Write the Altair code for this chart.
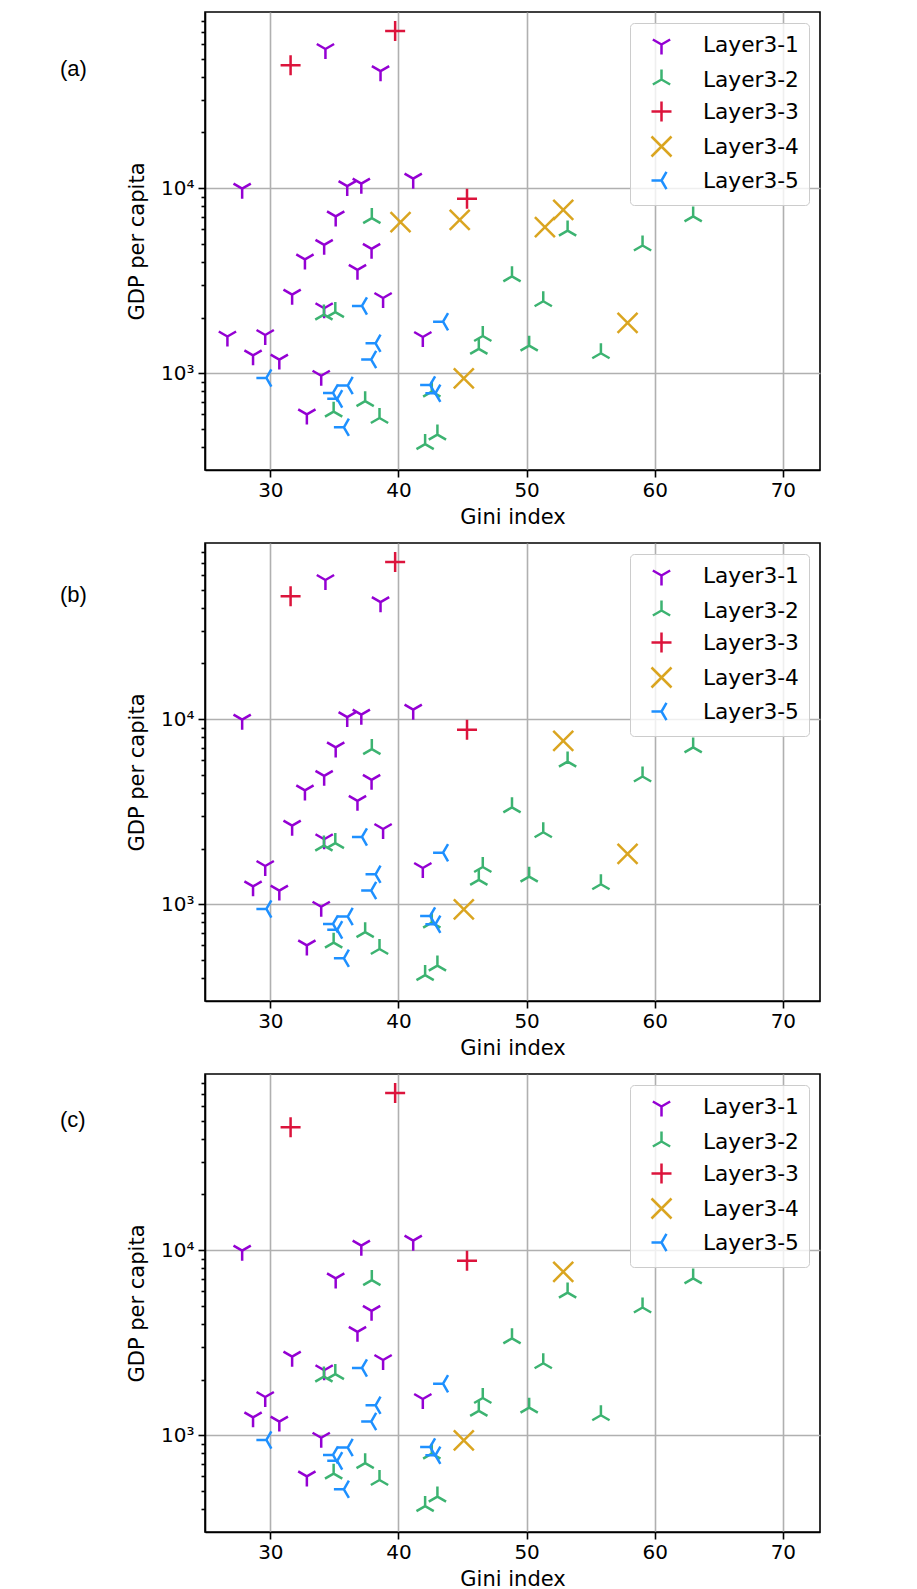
import altair as alt
import pandas as pd

# ---------------- data ----------------
series_names = ["Layer3-1", "Layer3-2", "Layer3-3", "Layer3-4", "Layer3-5"]
series_colors = ["#9400D3", "#3CB371", "#DC143C", "#DAA520", "#1E90FF"]

# Layer3-1 (tri_down, purple); panels string tells in which panels the point appears
l1_gini = [34.3, 38.6, 27.8, 36.0, 37.1, 41.15, 35.1, 34.2, 37.9, 32.7, 36.8,
           31.7, 38.8, 34.2, 26.65, 29.6, 41.9, 28.65, 30.7, 33.97, 32.85]
l1_gdp = [56400, 42800, 9930, 10260, 10570, 11250, 7030, 4940, 4700, 4120, 3620,
          2660, 2550, 2245, 1580, 1610, 1570, 1250, 1186, 970, 600]
l1_panels = ["ab", "ab", "abc", "ab", "abc", "abc", "abc", "ab", "abc", "ab", "abc",
             "abc", "abc", "abc", "a", "abc", "abc", "abc", "abc", "abc", "abc"]

# Layer3-2 (tri_up, green)
l2_gini = [37.92, 53.2, 63.0, 59.05, 48.86, 51.3, 46.58, 46.27, 50.2, 55.8,
           34.18, 35.07, 42.6, 43.04, 42.08, 34.94, 37.4, 38.52]
l2_gdp = [6890, 5900, 7030, 4900, 3340, 2450, 1590, 1355, 1410, 1283,
          2075, 2140, 796, 467, 415, 621, 707, 574]
l2_panels = ["abc"] * 18

# Layer3-3 (plus, red)
l3_gini = [31.58, 39.74, 45.35]
l3_gdp = [46000, 70600, 8770]
l3_panels = ["abc", "abc", "abc"]

# Layer3-4 (x, orange)
l4_gini = [40.16, 44.78, 52.86, 51.43, 57.88, 45.1]
l4_gdp = [6550, 6740, 7640, 6150, 1870, 940]
l4_panels = ["a", "a", "abc", "a", "ab", "abc"]

# Layer3-5 (tri_left, blue)
l5_gini = [37.15, 43.48, 38.21, 37.87, 29.69, 36.04, 34.89, 35.22, 35.74, 42.47, 42.88]
l5_gdp = [2310, 1900, 1453, 1187, 944, 859, 783, 728, 511, 865, 780]
l5_panels = ["abc"] * 11

panel_keys = ["a", "b", "c"]
panel_labels = ["(a)", "(b)", "(c)"]

x_ticks = [30, 40, 50, 60, 70]
y_major = [1000, 10000]
y_minor = [400, 500, 600, 700, 800, 900, 2000, 3000, 4000, 5000, 6000, 7000,
           8000, 9000, 20000, 30000, 40000, 50000, 60000, 70000, 80000]

# ---------------- build table ----------------
series_data = [
    (l1_gini, l1_gdp, l1_panels),
    (l2_gini, l2_gdp, l2_panels),
    (l3_gini, l3_gdp, l3_panels),
    (l4_gini, l4_gdp, l4_panels),
    (l5_gini, l5_gdp, l5_panels),
]
rows = []
for name, (gx, gy, gp) in zip(series_names, series_data):
    for xv, yv, pv in zip(gx, gy, gp):
        for p in pv:
            rows.append({"series": name, "gini": xv, "gdp": yv, "panel": p})
df = pd.DataFrame(rows)

# marker shapes (matplotlib '1', '2', '+', 'x', '3')
shape_paths = [
    "M0,0L0,1M0,0L-0.866,-0.5M0,0L0.866,-0.5",
    "M0,0L0,-1M0,0L-0.866,0.5M0,0L0.866,0.5",
    "M-1,0L1,0M0,-1L0,1",
    "M-1,-1L1,1M-1,1L1,-1",
    "M0,0L-1,0M0,0L0.5,-0.866M0,0L0.5,0.866",
]

major_test = "datum.value == 1000 || datum.value == 10000"

W, H = 615, 458
label_y = [57, 52, 46]


def make_panel(key, label, ly):
    legend = alt.Legend(
        title=None, orient="top-right", offset=11, padding=10, cornerRadius=4,
        strokeColor="#cccccc", fillColor="rgba(255,255,255,0.8)",
        labelFont="DejaVu Sans", labelFontSize=21.7, labelColor="black",
        symbolSize=400, symbolStrokeWidth=2.5, rowPadding=4,
        labelOffset=30, symbolOffset=10,
    )
    pts = alt.Chart(df[df["panel"] == key]).mark_point(
        filled=False, strokeWidth=2.5, size=400, opacity=1
    ).encode(
        x=alt.X("gini:Q",
                scale=alt.Scale(domain=[24.9, 72.9], nice=False, zero=False),
                axis=alt.Axis(values=x_ticks, title="Gini index", tickSize=7,
                              labelPadding=3, titlePadding=6, grid=True)),
        y=alt.Y("gdp:Q",
                scale=alt.Scale(type="log", domain=[300.6, 89300], nice=False),
                axis=alt.Axis(values=y_major + y_minor, title="GDP per capita",
                              labelExpr="datum.value == 1000 ? '10³' : (datum.value == 10000 ? '10⁴' : '')",
                              tickSize={"condition": {"test": major_test, "value": 7}, "value": 4},
                              gridOpacity={"condition": {"test": major_test, "value": 1}, "value": 0},
                              labelPadding=4, titlePadding=13, grid=True)),
        color=alt.Color("series:N",
                        scale=alt.Scale(domain=series_names, range=series_colors),
                        legend=legend),
        shape=alt.Shape("series:N",
                        scale=alt.Scale(domain=series_names, range=shape_paths),
                        legend=legend),
    )
    txt = alt.Chart(pd.DataFrame({"t": [label]})).mark_text(
        font="Liberation Sans", fontSize=22, align="left", baseline="middle", color="black"
    ).encode(x=alt.value(-145), y=alt.value(ly), text="t:N")
    return alt.layer(pts, txt).properties(width=W, height=H)


panels = [make_panel(k, l, ly) for k, l, ly in zip(panel_keys, panel_labels, label_y)]

chart = alt.vconcat(*panels, spacing=14).resolve_scale(
    color="independent", shape="independent", x="independent", y="independent"
).resolve_legend(
    color="independent", shape="independent"
).properties(
    padding={"left": 51, "top": 3, "right": 0, "bottom": 0}
).configure_view(
    stroke="black", strokeWidth=1.6
).configure_axis(
    domainColor="black", domainWidth=1.6, tickColor="black", tickWidth=1.6,
    gridColor="#b0b0b0", gridWidth=1.6,
    labelFont="DejaVu Sans", labelFontSize=20, labelColor="black",
    titleFont="DejaVu Sans", titleFontSize=21, titleFontWeight="normal", titleColor="black",
)

chart.save("out.html", embed_options={"renderer": "svg", "actions": False})
